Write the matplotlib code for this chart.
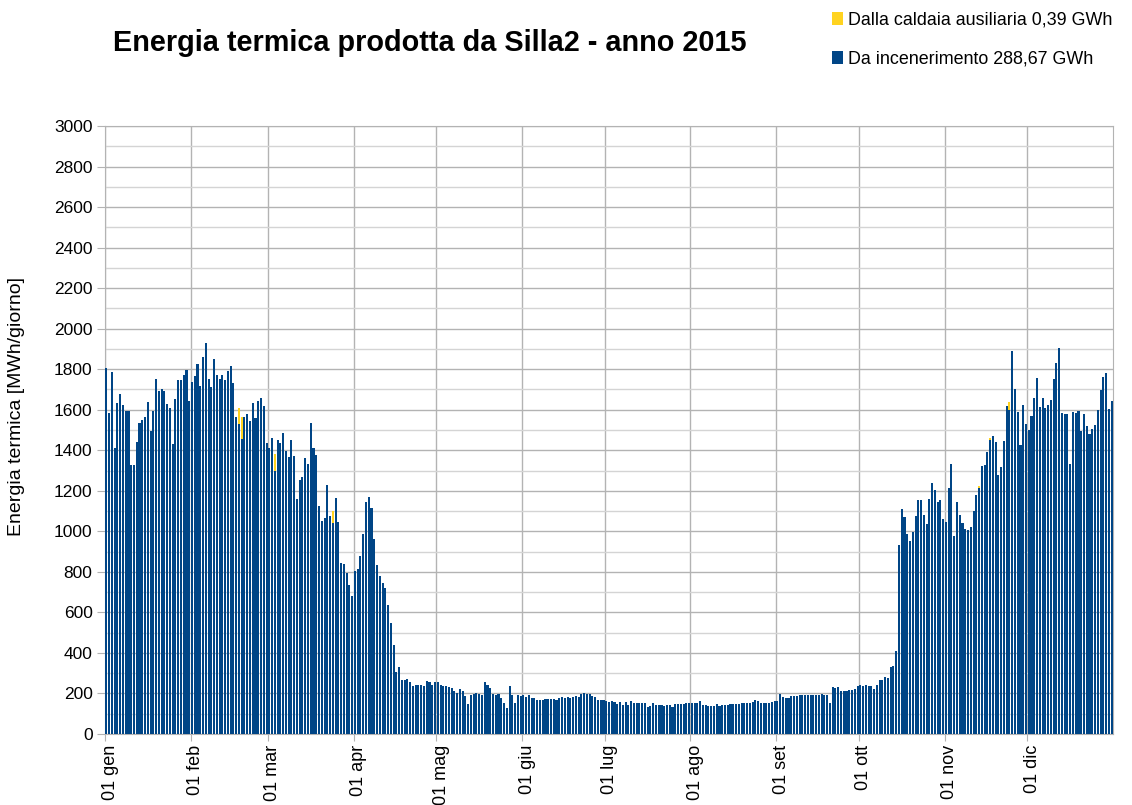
import numpy as np
import matplotlib.pyplot as plt
from matplotlib.transforms import ScaledTranslation

plt.rcParams['font.family'] = ['Liberation Sans', 'DejaVu Sans']

# daily thermal energy from incineration, MWh/day
jan = [1805, 1585, 1785, 1410, 1635, 1680, 1625, 1595, 1595, 1325, 1325, 1440, 1535, 1550, 1565, 1640,
       1495, 1595, 1750, 1690, 1700, 1690, 1630, 1610, 1430, 1655, 1745, 1745, 1770, 1795, 1645]
feb = [1735, 1765, 1825, 1715, 1860, 1930, 1750, 1710, 1850, 1770, 1750, 1770, 1745, 1790, 1815, 1730,
       1565, 1530, 1455, 1565, 1580, 1545, 1635, 1560, 1645, 1660, 1620, 1435]
mar = [1410, 1460, 1300, 1450, 1435, 1485, 1395, 1365, 1450, 1370, 1160, 1255, 1270, 1360, 1330, 1535,
       1410, 1375, 1125, 1050, 1065, 1230, 1075, 1040, 1165, 1045, 845, 840, 795, 735, 680]
apr = [805, 815, 880, 985, 1145, 1170, 1115, 960, 835, 780, 745, 720, 635, 550, 440, 305,
       330, 265, 265, 270, 255, 235, 240, 240, 240, 235, 260, 255, 240, 255]
may = [257, 242, 237, 237, 232, 227, 212, 202, 222, 212, 188, 148, 192, 197, 202, 197,
       192, 257, 242, 227, 197, 192, 197, 178, 153, 128, 237, 192, 153, 192, 188]
jun = [192, 183, 192, 178, 178, 168, 168, 168, 173, 173, 173, 173, 168, 178, 183, 178,
       183, 178, 183, 188, 183, 197, 202, 197, 197, 188, 183, 168, 168, 168]
jul = [163, 158, 163, 158, 148, 158, 143, 158, 143, 163, 153, 153, 153, 153, 153, 133,
       138, 153, 143, 143, 143, 138, 143, 143, 133, 148, 148, 148, 148, 153, 153]
aug = [153, 153, 153, 163, 143, 143, 138, 138, 138, 148, 138, 143, 143, 143, 148, 148,
       148, 148, 153, 153, 153, 153, 158, 168, 163, 153, 153, 153, 153, 158, 163]
sep = [163, 197, 183, 178, 178, 188, 188, 188, 192, 192, 192, 192, 192, 192, 192, 192,
       197, 192, 192, 153, 232, 227, 232, 212, 212, 212, 217, 217, 220, 235]
oct_ = [240, 235, 240, 235, 235, 220, 240, 265, 265, 280, 275, 330, 335, 410, 935, 1110,
        1070, 985, 950, 995, 1075, 1155, 1155, 1080, 1035, 1160, 1240, 1205, 1145, 1155, 1060]
nov = [1045, 1215, 1330, 975, 1145, 1080, 1040, 1010, 1005, 1020, 1100, 1180, 1215, 1320, 1325,
       1390, 1450, 1470, 1440, 1280, 1315, 1445, 1620, 1600, 1890, 1700, 1590, 1425, 1625, 1530]
dec = [1500, 1570, 1660, 1755, 1615, 1660, 1610, 1625, 1650, 1750, 1830, 1905, 1585, 1580, 1580,
       1330, 1590, 1585, 1595, 1495, 1580, 1520, 1480, 1505, 1525, 1600, 1695, 1760, 1780, 1605, 1645]

# auxiliary boiler days (month, day) and MWh
aux_days = [(2, 18), (2, 19), (3, 3), (3, 24), (11, 13), (11, 17), (11, 24)]
aux_vals = [80, 110, 80, 60, 10, 10, 40]

month_labels = ['01 gen', '01 feb', '01 mar', '01 apr', '01 mag', '01 giu',
                '01 lug', '01 ago', '01 set', '01 ott', '01 nov', '01 dic']

months = [jan, feb, mar, apr, may, jun, jul, aug, sep, oct_, nov, dec]
inc = np.concatenate(months).astype(float)
starts = np.concatenate([[0], np.cumsum([len(m) for m in months])[:-1]])
aux = np.zeros(len(inc))
for (m, d), v in zip(aux_days, aux_vals):
    aux[starts[m - 1] + d - 1] = v
days = np.arange(len(inc))

fig = plt.figure(figsize=(11.32, 8.05), dpi=100)
ax = fig.add_axes([105 / 1132, 1 - 734 / 805, 1008 / 1132, 608 / 805])

b_inc = ax.bar(days, inc, width=0.75, color='#004586', zorder=3,
               label='Da incenerimento 288,67 GWh')
b_aux = ax.bar(days, aux, bottom=inc, width=0.75, color='#ffd320', zorder=3,
               label='Dalla caldaia ausiliaria 0,39 GWh')

ax.set_xlim(-0.5, len(inc) - 0.5)
ax.set_ylim(0, 3000)
ax.set_yticks(range(0, 3001, 200))
ax.set_yticks(range(100, 3000, 200), minor=True)
ax.grid(axis='y', which='major', color='#b3b3b3', lw=1)
ax.grid(axis='y', which='minor', color='#d4d4d4', lw=1)
ax.set_xticks(starts - 0.5)
ax.set_xticklabels(month_labels, rotation=90, va='top', ha='center')
ax.grid(axis='x', which='major', color='#b3b3b3', lw=1)
ax.set_axisbelow(True)

for s in ax.spines.values():
    s.set_color('#b3b3b3')
ax.tick_params(axis='y', which='major', length=6, color='#b3b3b3', labelsize=12.5, pad=3)
ax.tick_params(axis='y', which='minor', length=0)
ax.tick_params(axis='x', length=5, color='#b3b3b3', labelsize=13, pad=3)
for lab in ax.get_xticklabels():
    lab.set_transform(lab.get_transform() + ScaledTranslation(0.05, 0, fig.dpi_scale_trans))

ax.set_ylabel('Energia termica [MWh/giorno]', fontsize=14)
ax.yaxis.set_label_coords(-0.079, 0.538)

fig.text(0.38, 0.947, 'Energia termica prodotta da Silla2 - anno 2015',
         fontsize=20.8, fontweight='bold', ha='center', va='center')

fig.legend(handles=[b_aux, b_inc], loc='upper right', bbox_to_anchor=(0.986, 0.990),
           frameon=False, fontsize=12.9, handlelength=0.6, handleheight=0.8,
           handletextpad=0.3, labelspacing=1.23, borderaxespad=0, borderpad=0.2)

fig.savefig('out.png', dpi=100)
